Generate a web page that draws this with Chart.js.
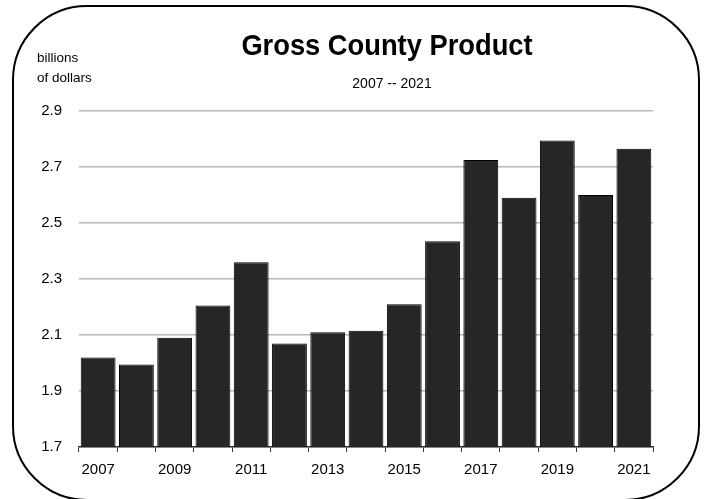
<!DOCTYPE html>
<html>
<head>
<meta charset="utf-8">
<script src="https://cdn.jsdelivr.net/npm/chart.js@4/dist/chart.umd.min.js"></script>
<style>
  html, body { margin: 0; padding: 0; background: #fff; }
  #wrap { width: 708px; height: 499px; }
</style>
</head>
<body>
<div id="wrap"><canvas id="gcpChart" width="708" height="499"></canvas></div>
<script>
const years = ["2007", "2008", "2009", "2010", "2011", "2012", "2013", "2014",
  "2015", "2016", "2017", "2018", "2019", "2020", "2021"];
const gcp = [2.02, 1.995, 2.09, 2.205, 2.36, 2.07, 2.11, 2.115,
  2.21, 2.435, 2.725, 2.59, 2.795, 2.60, 2.765];
const yMin = 1.7;
const yMax = 2.9;
const yStep = 0.2;
const titleText = "Gross County Product";
const subtitleText = "2007 -- 2021";
const unitLines = ["billions", "of dollars"];

const FONT = "'Liberation Sans', Arial, Helvetica, sans-serif";

// frame, title and unit label drawn straight on the canvas
const decorations = {
  id: "decorations",
  afterDraw(chart) {
    const ctx = chart.ctx;
    ctx.save();
    ctx.strokeStyle = "#000";
    ctx.lineWidth = 2;
    ctx.beginPath();
    ctx.roundRect(13, 6, 686, 494, 74);
    ctx.stroke();

    ctx.fillStyle = "#000";
    ctx.textAlign = "center";
    ctx.textBaseline = "middle";
    // title looks a bit condensed in the original, squeeze it horizontally
    ctx.save();
    ctx.translate(387, 47);
    ctx.scale(0.91, 1);
    ctx.font = "bold 30px " + FONT;
    ctx.fillText(titleText, 0, 0);
    ctx.restore();

    ctx.font = "14px " + FONT;
    ctx.fillText(subtitleText, 392, 84);

    ctx.textAlign = "left";
    ctx.font = "13.5px " + FONT;
    ctx.fillText(unitLines[0], 37, 58);
    ctx.fillText(unitLines[1], 37, 78);
    ctx.restore();
  }
};

new Chart(document.getElementById("gcpChart"), {
  type: "bar",
  data: {
    labels: years,
    datasets: [{
      data: gcp,
      backgroundColor: "#262626",
      borderColor: "#000",
      borderWidth: 1,
      barPercentage: 0.91,
      categoryPercentage: 1
    }]
  },
  options: {
    responsive: false,
    animation: false,
    layout: { padding: { left: 0, right: 55, top: 111, bottom: 0 } },
    plugins: {
      legend: { display: false },
      title: { display: false },
      tooltip: { enabled: false }
    },
    scales: {
      x: {
        afterFit: scale => { scale.height = 52; },
        grid: {
          offset: true,
          drawOnChartArea: false,
          drawTicks: true,
          tickLength: 5,
          color: "#333",
          lineWidth: 1
        },
        border: { display: true, color: "#333", width: 1.5 },
        ticks: {
          autoSkip: false,
          maxRotation: 0,
          padding: 9,
          color: "#000",
          font: { family: FONT, size: 15 },
          callback: (v, i) => (i % 2 === 0 ? years[i] : "")
        }
      },
      y: {
        min: yMin,
        max: yMax,
        afterFit: scale => { scale.width = 79; },
        grid: { color: "#b8b8b8", lineWidth: 1.5, drawTicks: false },
        border: { display: false },
        ticks: {
          stepSize: yStep,
          padding: 17,
          color: "#000",
          font: { family: FONT, size: 15 },
          callback: v => v.toFixed(1)
        }
      }
    }
  },
  plugins: [decorations]
});
</script>
</body>
</html>
